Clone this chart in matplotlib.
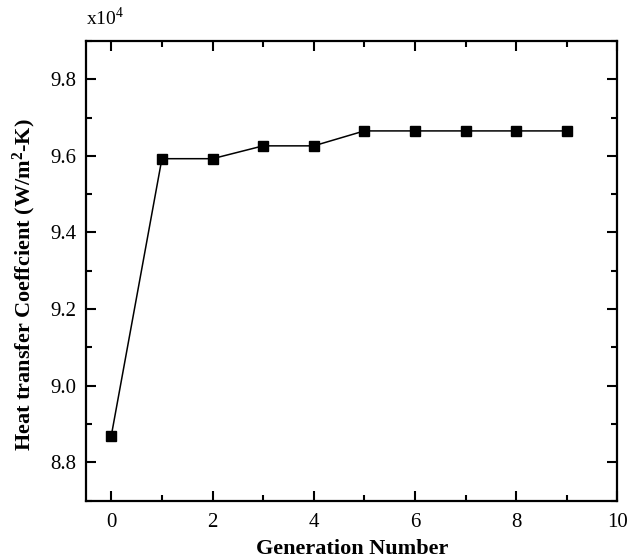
import numpy as np
import matplotlib.pyplot as plt

# data (heat transfer coefficient, W/m2-K)
generation = [0, 1, 2, 3, 4, 5, 6, 7, 8, 9]
htc = [88695, 95925, 95925, 96260, 96260, 96650, 96650, 96650, 96650, 96650]

x_ticks = [0, 2, 4, 6, 8, 10]
y_ticks = [8.8, 9.0, 9.2, 9.4, 9.6, 9.8]

plt.rcParams['font.family'] = ['Liberation Serif', 'DejaVu Serif']
plt.rcParams['mathtext.fontset'] = 'custom'
plt.rcParams['mathtext.rm'] = 'Liberation Serif'
plt.rcParams['mathtext.bf'] = 'Liberation Serif:bold'

fig = plt.figure(figsize=(6.3, 5.6), dpi=100)
ax = fig.add_axes([0.1365, 0.106, 0.8435, 0.821])

y = np.array(htc) / 1e4
ax.plot(generation, y, color='black', lw=1.1, marker='s', ms=7.5,
        markerfacecolor='black', markeredgecolor='black')

ax.set_xlim(-0.5, 10)
ax.set_ylim(8.7, 9.9)
ax.set_xticks(x_ticks)
ax.set_xticks(np.arange(1, 10, 2), minor=True)
ax.set_yticks(y_ticks)
ax.set_yticks(np.arange(8.7, 9.95, 0.2), minor=True)
ax.set_yticklabels(['%.1f' % v for v in y_ticks])

ax.tick_params(which='both', direction='in', top=True, right=True,
               labelsize=15, width=1.5)
ax.tick_params(which='major', length=7, pad=7)
ax.tick_params(axis='x', which='major', pad=9)
ax.tick_params(which='minor', length=4)
for s in ax.spines.values():
    s.set_linewidth(1.6)

ax.set_xlabel('Generation Number', fontsize=16, fontweight='bold', labelpad=5)
ax.set_ylabel('Heat transfer Coeffcient (W/m$\\mathbf{^2}$-K)', fontsize=16,
              fontweight='bold')
ax.yaxis.set_label_coords(-0.09, 0.47)
ax.text(0.0, 1.025, 'x10$^{4}$', transform=ax.transAxes, fontsize=14,
        ha='left', va='bottom')

fig.savefig('out.png', dpi=100)
